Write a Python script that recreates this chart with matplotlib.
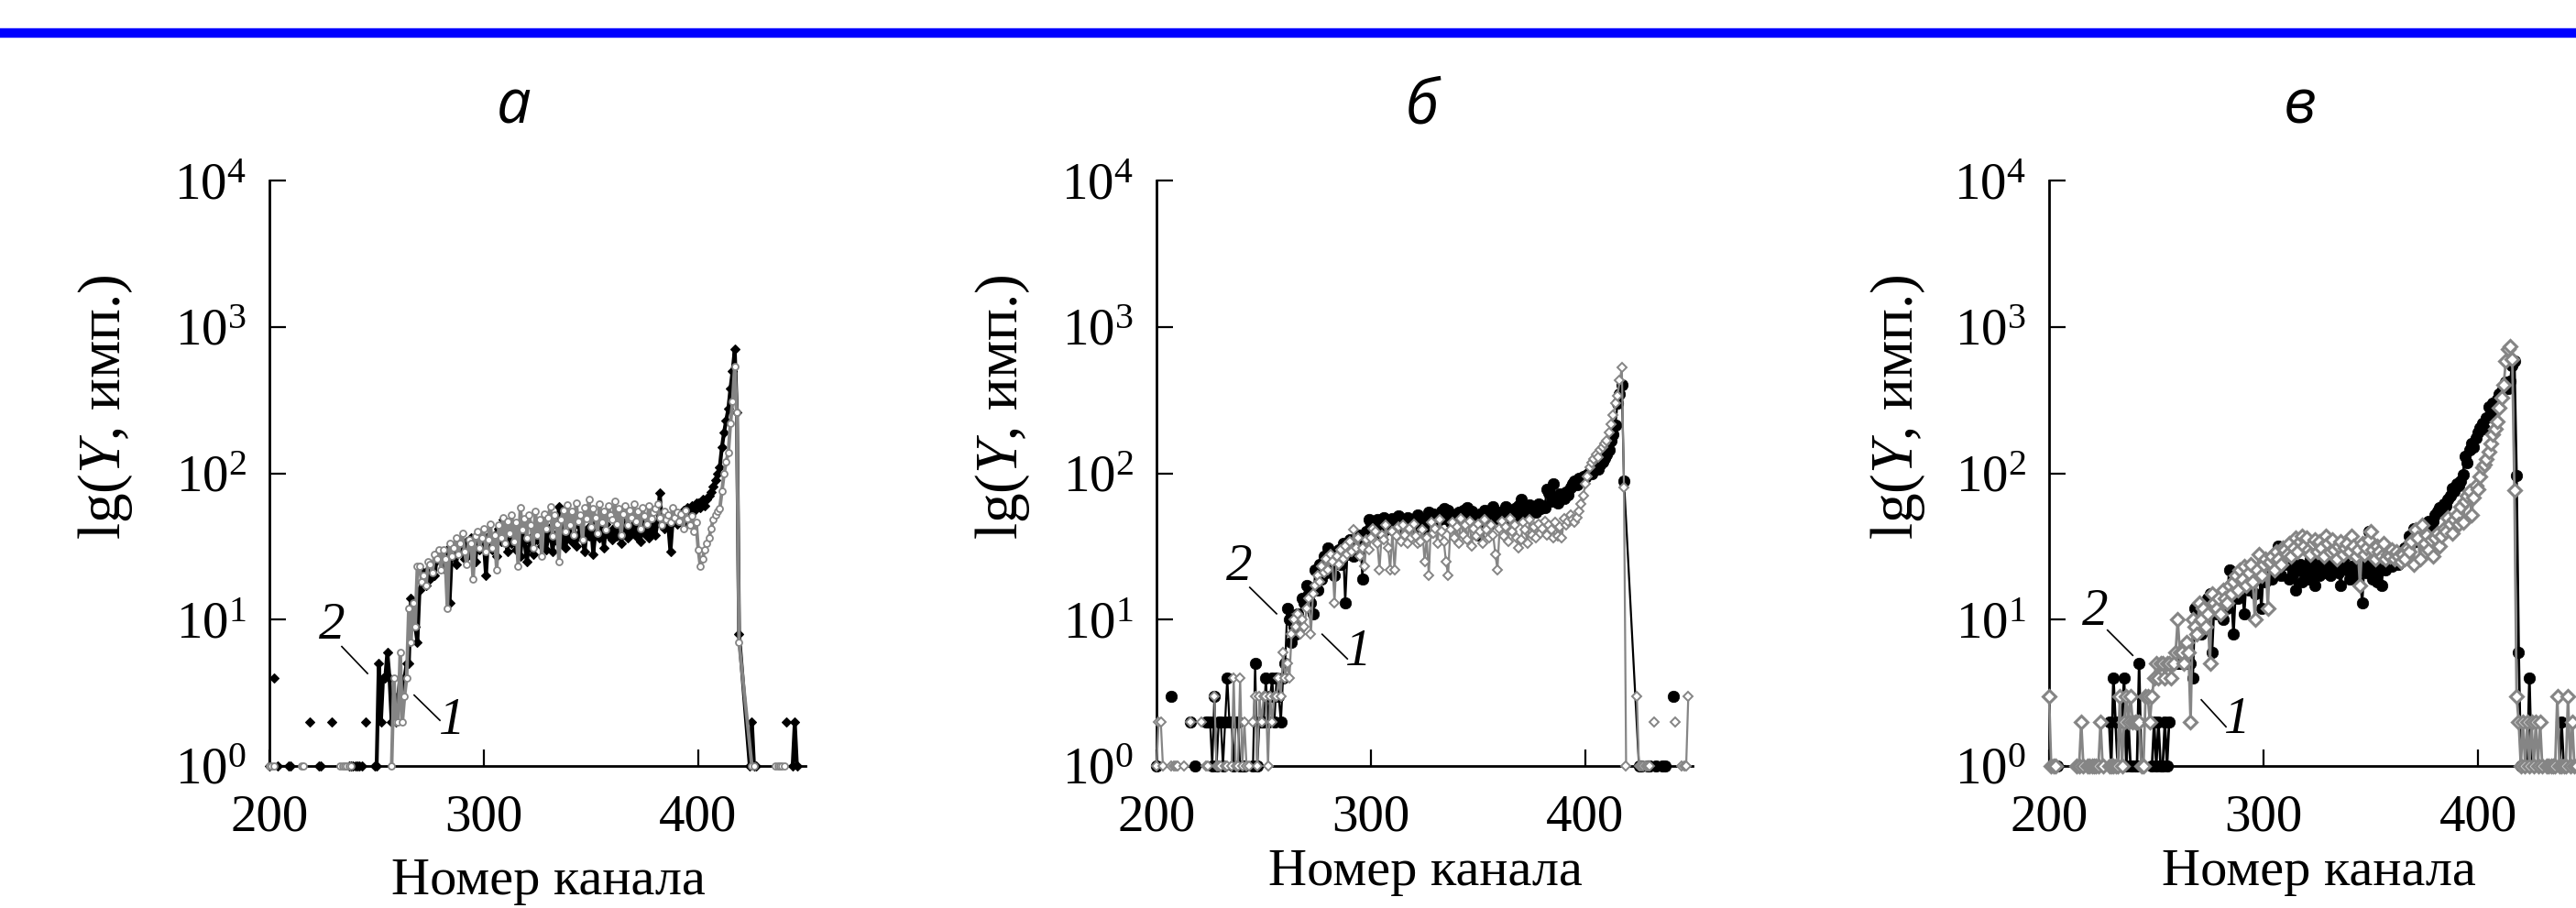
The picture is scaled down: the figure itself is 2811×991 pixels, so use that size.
import numpy as np
import matplotlib
matplotlib.use("Agg")
import matplotlib.pyplot as plt
from matplotlib.lines import Line2D

plt.rcParams['font.family'] = ['Liberation Serif', 'DejaVu Serif']
plt.rcParams['mathtext.fontset'] = 'custom'
plt.rcParams['mathtext.rm'] = 'Liberation Serif'
plt.rcParams['mathtext.it'] = 'Liberation Serif:italic'

# ---------------- data ----------------
channels = list(range(200, 450))
x_ticks = [200, 300, 400]
y_ticks = [1, 10, 100, 1000, 10000]
panel_titles = ['а', 'б', 'в']
x_label = 'Номер канала'
y_label = 'lg($\\it{Y}$, имп.)'
curve_labels = ['1', '2']

# 0 = no counts (gap);  None = channel skipped, line passes straight through
a_curve2 = [
    1, 0, 4, 0, 1, 0, 0, 0, 0, 1,
    1, 0, 0, 0, 0, 0, 0, 0, 0, 2,
    0, 0, 0, 1, 1, 0, 0, 0, 0, 2,
    0, 0, 0, 0, 0, 0, 0, 1, 1, 1,
    1, 1, 1, 1, 0, 2, 0, 0, 0, 1,
    1, 5, 2, 4, 4, 6, 4, 2, 3, 2,
    3, 4, 3, 4, 5, 5, 14, 11, 9, 7,
    16, 18, 21, 17, 22, 19, 24, 20, 26, 29,
    25, 28, 22, 30, 13, 27, 31, 24, 29, 33,
    30, 26, 34, 28, 36, 31, 25, 34, 30, 38,
    33, 20, 37, 35, 30, 38, 27, 42, 34, 48,
    37, 29, 41, 33, 45, 30, 36, 27, 39, 34,
    25, 31, 36, 28, 40, 35, 44, 32, 38, 30,
    36, 43, 29, 38, 34, 59, 33, 46, 31, 37,
    40, 34, 45, 32, 38, 43, 35, 29, 41, 37,
    44, 28, 39, 47, 36, 42, 31, 45, 38, 40,
    35, 43, 37, 48, 33, 41, 46, 36, 42, 39,
    45, 37, 41, 34, 47, 39, 43, 36, 40, 44,
    38, 46, 73, 48, 42, 50, 44, 29, 46, 52,
    45, 53, 48, 56, 44, 58, 51, 60, 55, 63,
    63, 58, 66, 60, 66, 70, 74, 81, 90, 100,
    110, 150, 190, 230, 275, 380, 500, 700, 260, 8,
    None, None, None, None, 1, 2, 1, 1, 0, 0,
    0, 0, 0, 0, 0, 0, 0, 0, 0, 0,
    0, 2, 0, 0, 1, 2, 1, 0, 0, 0,
]
a_curve1 = [
    1, 1, 1, 0, 0, 0, 0, 0, 0, 0,
    0, 0, 0, 0, 0, 1, 1, 0, 0, 0,
    0, 0, 0, 0, 0, 0, 0, 0, 0, 0,
    0, 0, 0, 1, 1, 1, 1, 1, 1, 0,
    0, 0, 0, 0, 0, 0, 0, 0, 0, 0,
    0, 0, 0, 0, 0, 0, 0, 1, 4, 2,
    2, 6, 2, 3, 4, 12, 7, 13, 9, 23,
    23, 18, 20, 17, 25, 24, 21, 28, 26, 30,
    22, 30, 26, 12, 33, 27, 31, 36, 28, 33,
    39, 29, 24, 35, 33, 19, 37, 40, 31, 36,
    42, 29, 35, 45, 31, 38, 22, 44, 36, 50,
    33, 47, 39, 52, 34, 46, 23, 58, 41, 49,
    36, 52, 44, 31, 55, 38, 48, 27, 53, 42,
    50, 59, 37, 52, 45, 25, 48, 56, 40, 61,
    44, 55, 38, 63, 47, 52, 35, 58, 49, 66,
    43, 57, 50, 39, 62, 46, 55, 41, 60, 52,
    48, 64, 45, 57, 38, 53, 60, 44, 56, 50,
    62, 47, 55, 42, 58, 51, 45, 60, 49, 54,
    57, 62, 50, 44, 55, 48, 52, 46, 58, 50,
    54, 47, 53, 42, 56, 49, 44, 51, 40, 46,
    30, 23, 26, 30, 33, 36, 42, 48, 52, 55,
    57, 75, 99, 120, 138, 220, 310, 540, 260, 7,
    None, None, None, None, None, 1, 1, 0, 0, 0,
    0, 0, 0, 0, 0, 0, 1, 1, 1, 1,
    1, 0, 0, 0, 0, 0, 0, 0, 0, 0,
]

b_curve2 = [
    1, 0, 0, 0, 0, 0, 0, 3, 0, 0,
    0, 0, 0, 0, 0, 0, 2, 0, 1, 0,
    0, 0, 0, 2, 2, 2, 1, 3, 1, 2,
    2, 1, 2, 4, 2, 2, 1, 2, 2, 1,
    1, 1, 0, 0, 0, 1, 5, 1, 2, 2,
    2, 4, 2, 3, 4, 2, 4, 3, 2, 4,
    5, 12, 10, 7, 9, 8, 11, 9, 14, 13,
    17, 15, 13, 11, 22, 16, 24, 19, 27, 21,
    31, 25, 28, 20, 26, 30, 24, 33, 13, 28,
    35, 30, 27, 34, 31, 38, 19, 36, 40, 48,
    45, 47, 42, 48, 39, 44, 50, 41, 46, 43,
    49, 40, 45, 51, 42, 47, 44, 50, 38, 46,
    48, 43, 52, 45, 47, 41, 50, 54, 46, 53,
    44, 51, 48, 55, 57, 49, 56, 46, 52, 50,
    47, 54, 49, 56, 51, 58, 48, 55, 44, 52,
    38, 53, 47, 56, 50, 45, 52, 59, 49, 54,
    51, 47, 56, 59, 50, 53, 48, 57, 52, 60,
    66, 55, 58, 53, 61, 56, 59, 54, 62, 57,
    60, 58, 78, 73, 64, 85, 68, 63, 72, 70,
    67, 74, 71, 80, 85, 89, 84, 92, 88, 95,
    94, 98, 102, 100, 107, 110, 106, 115, 120, 127,
    135, 145, 166, 185, 213, 300, 350, 400, 89, None,
    None, None, None, None, None, 1, 1, 0, 0, 1,
    1, 0, 0, 1, 0, 0, 1, 1, 0, 0,
    0, 3, 0, 0, 0, 0, 0, 0, 0, 0,
]
b_curve1 = [
    1, 2, 2, 1, 0, 0, 0, 1, 1, 1,
    1, 0, 0, 1, 0, 0, 2, 0, 0, 0,
    0, 2, 0, 1, 1, 0, 0, 3, 1, 1,
    1, 0, 1, 1, 0, 1, 4, 1, 1, 4,
    1, 2, 1, 1, 0, 2, 3, 1, 3, 2,
    3, 3, 1, 3, 2, 3, 3, 4, 3, 6,
    4, 5, 4, 8, 10, 9, 11, 8, 10, 9,
    12, 14, 8, 15, 17, 20, 18, 23, 21, 26,
    22, 28, 25, 13, 27, 24, 30, 26, 32, 28,
    34, 29, 41, 31, 36, 27, 31, 23, 35, 30,
    36, 42, 40, 33, 22, 38, 35, 44, 31, 22,
    40, 22, 37, 43, 34, 44, 38, 33, 42, 36,
    45, 37, 33, 34, 41, 25, 36, 20, 46, 39,
    42, 33, 48, 40, 34, 25, 20, 41, 46, 36,
    43, 33, 49, 38, 44, 35, 47, 32, 42, 37,
    45, 40, 33, 48, 41, 36, 44, 38, 28, 22,
    42, 47, 37, 43, 34, 49, 40, 44, 36, 31,
    35, 46, 41, 33, 48, 38, 43, 36, 45, 39,
    42, 47, 38, 44, 41, 36, 46, 37, 43, 36,
    49, 44, 47, 52, 48, 46, 50, 55, 62, 70,
    85, 95, 110, 118, 125, 134, 128, 145, 150, 160,
    166, 190, 215, 250, 300, 337, 430, 525, 80, 1,
    0, 0, 0, 0, 3, 1, 1, 1, 1, 1,
    1, 0, 2, 0, 0, 0, 0, 0, 0, 0,
    0, 0, 2, 0, 0, 1, 1, 1, 3, 0,
]

c_curve2 = [
    0, 0, 0, 0, 1, 0, 0, 0, 0, 0,
    0, 0, 0, 0, 0, 0, 0, 0, 0, 0,
    0, 0, 0, 0, 0, 0, 0, 0, 2, 1,
    4, 2, 1, 2, 2, 4, 1, 2, 1, 1,
    1, 1, 5, 1, 0, 0, 0, 0, 1, 2,
    1, 2, 1, 1, 2, 1, 2, 0, 0, 5,
    5, 5, 5, 5, 5, 5, 5, 4, 12, 10,
    9, 8, 12, 11, 14, 15, 6, 13, 11, 12,
    14, 10, 13, 12, 22, 15, 8, 16, 14, 18,
    17, 11, 19, 16, 20, 18, 15, 19, 21, 12,
    22, 18, 25, 21, 19, 27, 22, 32, 20, 25,
    24, 26, 19, 25, 21, 16, 22, 24, 18, 21,
    23, 19, 26, 21, 17, 24, 20, 27, 22, 21,
    25, 20, 23, 28, 22, 21, 17, 24, 27, 22,
    19, 23, 20, 24, 18, 22, 13, 25, 21, 40,
    23, 19, 24, 18, 22, 17, 25, 22, 26, 27,
    23, 28, 26, 24, 29, 27, 31, 28, 37, 33,
    42, 34, 38, 36, 40, 44, 41, 47, 45, 47,
    52, 55, 58, 56, 62, 60, 66, 70, 79, 75,
    85, 82, 89, 98, 130, 118, 145, 160, 150, 175,
    190, 205, 220, 200, 240, 285, 260, 300, 275, 320,
    350, 365, 390, 420, 380, 425, 545, 585, 97, 6,
    1, 1, 1, 1, 4, 1, 1, 1, 1, 0,
    0, 0, 0, 0, 0, 0, 0, 0, 1, 2,
    1, 0, 0, 0, 0, 0, 0, 0, 0, 0,
]
c_curve1 = [
    3, 1, 1, 1, 0, 0, 0, 0, 0, 0,
    0, 0, 0, 1, 1, 2, 1, 0, 1, 1,
    1, 1, 1, 1, 2, 1, 0, 0, 1, 1,
    1, 1, 1, 3, 1, 2, 3, 2, 3, 2,
    2, 2, 2, 1, 1, 3, 3, 2, 3, 4,
    5, 4, 5, 5, 4, 5, 5, 4, 5, 6,
    10, 6, 6, 5, 7, 6, 2, 10, 9, 8,
    13, 10, 12, 9, 11, 5, 15, 13, 12, 14,
    11, 16, 14, 13, 17, 15, 18, 20, 16, 22,
    19, 23, 17, 21, 24, 18, 10, 22, 28, 20,
    24, 26, 12, 25, 27, 22, 29, 26, 24, 31,
    30, 28, 33, 27, 31, 36, 29, 34, 37, 32,
    36, 30, 28, 33, 35, 29, 34, 31, 27, 37,
    33, 29, 35, 30, 26, 32, 34, 28, 31, 33,
    29, 37, 32, 27, 30, 17, 33, 28, 31, 35,
    40, 30, 26, 32, 29, 27, 33, 26, 28, 27,
    30, 26, 29, 27, 25, 28, 26, 31, 29, 34,
    24, 41, 36, 26, 44, 33, 38, 30, 35, 27,
    36, 39, 32, 37, 42, 40, 50, 45, 39, 48,
    52, 45, 59, 46, 64, 70, 75, 52, 68, 82,
    78, 95, 110, 114, 125, 140, 160, 185, 200, 225,
    280, 330, 400, 585, 705, 740, 600, 77, 3, 2,
    1, 2, 1, 2, 1, 2, 1, 2, 1, 2,
    1, 0, 1, 1, 1, 1, 1, 3, 1, 1,
    1, 1, 3, 1, 2, 1, 1, 0, 0, 0,
]


def prep(vals):
    xs, ys = [], []
    for c, v in zip(channels, vals):
        if v is None:
            continue
        xs.append(c)
        ys.append(np.nan if v == 0 else v)
    return np.array(xs, float), np.array(ys, float)


GRAY = '#858585'
styles = [
    # (black curve style, gray curve style)
    (dict(color='black', lw=3.0, marker='D', ms=5, mfc='black', mec='black', mew=0.8),
     dict(color=GRAY, lw=2.8, marker='o', ms=5, mfc='white', mec=GRAY, mew=1.3)),
    (dict(color='black', lw=1.6, marker='o', ms=9, mfc='black', mec='black', mew=0.5),
     dict(color=GRAY, lw=1.6, marker='D', ms=5.5, mfc='white', mec=GRAY, mew=1.4)),
    (dict(color='black', lw=2.0, marker='o', ms=9, mfc='black', mec='black', mew=0.5),
     dict(color=GRAY, lw=2.0, marker='D', ms=7, mfc='white', mec=GRAY, mew=2.2)),
]
series = [(a_curve2, a_curve1), (b_curve2, b_curve1), (c_curve2, c_curve1)]

# annotation placement (axes fraction): text, leader start, leader end
ann = [
    {'2': ((0.116, 0.239), (0.135, 0.204), (0.183, 0.158)),
     '1': ((0.340, 0.077), (0.270, 0.121), (0.318, 0.078))},
    {'2': ((0.154, 0.340), (0.174, 0.305), (0.224, 0.260)),
     '1': ((0.376, 0.194), (0.309, 0.225), (0.356, 0.183))},
    {'2': ((0.085, 0.263), (0.109, 0.232), (0.156, 0.189)),
     '1': ((0.350, 0.078), (0.284, 0.113), (0.330, 0.067))},
]

W, H = 2811, 991
fig = plt.figure(figsize=(W / 100, H / 100), dpi=100)

lefts = [294, 1262, 2236]
ax_w, ax_top, ax_bot = 585, 197, 836
title_x = [561, 1552, 2510]
ylabel_x = [115, 1094, 2071]
xlabel_x = [598, 1555, 2530]
xlabel_y = [962, 952, 952]
FS = 41

# blue rule at the top
fig.add_artist(Line2D([0, 1], [1 - 36 / H, 1 - 36 / H], transform=fig.transFigure,
                      color='#0000ff', lw=7.5, solid_capstyle='butt'))

for i in range(3):
    ax = fig.add_axes([lefts[i] / W, (H - ax_bot) / H, ax_w / W, (ax_bot - ax_top) / H])
    s2, s1 = series[i]
    st2, st1 = styles[i]
    x2, y2 = prep(s2)
    x1, y1 = prep(s1)
    ax.plot(x2, y2, clip_on=False, zorder=3, **st2)
    ax.plot(x1, y1, clip_on=False, zorder=4, **st1)

    ax.set_yscale('log')
    ax.set_xlim(200, 450)
    ax.set_ylim(1, 10000)
    ax.set_xticks(x_ticks)
    ax.set_yticks(y_ticks)
    ax.yaxis.set_minor_locator(matplotlib.ticker.NullLocator())
    ax.spines['top'].set_visible(False)
    ax.spines['right'].set_visible(False)
    for sp in ('left', 'bottom'):
        ax.spines[sp].set_linewidth(2.0)
    ax.tick_params(axis='both', direction='in', length=13, width=1.6, labelsize=FS)
    ax.tick_params(axis='x', pad=22)
    ax.tick_params(axis='y', pad=18)
    ax.patch.set_alpha(0)

    for lab, (tpos, p0, p1) in ann[i].items():
        ax.text(tpos[0], tpos[1], lab, transform=ax.transAxes, fontsize=FS,
                style='italic', ha='center', va='center')
        ax.add_line(Line2D([p0[0], p1[0]], [p0[1], p1[1]], transform=ax.transAxes,
                           color='black', lw=1.2, clip_on=False))

    fig.text(title_x[i] / W, 1 - 117 / H, panel_titles[i], fontsize=48,
             family='Open Sans', style='italic', ha='center', va='center')
    fig.text(ylabel_x[i] / W, 1 - 444 / H, y_label, fontsize=47, rotation=90,
             ha='center', va='center')
    fig.text(xlabel_x[i] / W, 1 - xlabel_y[i] / H, x_label, fontsize=42,
             ha='center', va='center')

fig.savefig('out.png', dpi=100)
